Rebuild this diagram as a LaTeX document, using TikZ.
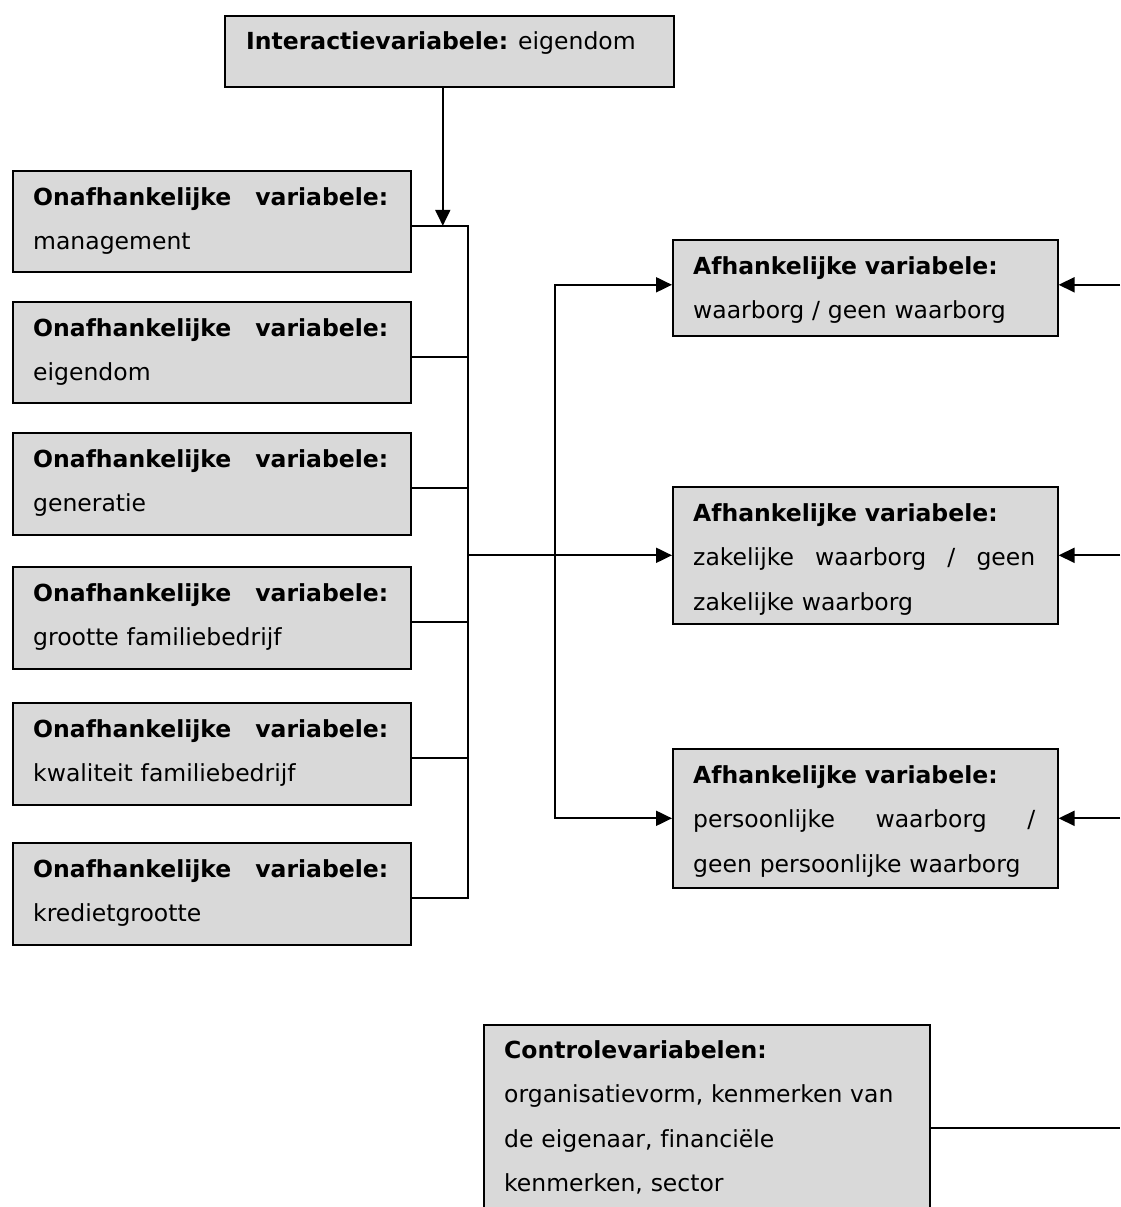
\documentclass[tikz,border=0pt]{standalone}
\usepackage{fontspec}
\setmainfont[Ligatures=NoCommon]{DejaVu Sans}
\usetikzlibrary{arrows.meta,calc}
\definecolor{boxgray}{HTML}{D9D9D9}
\tikzset{
  box/.style={draw=black, line width=1.6pt, fill=boxgray, rectangle,
    inner sep=0pt, anchor=north west},
  txt/.style={anchor=base west, inner sep=0pt, align=left,
    font=\fontsize{23.5}{44.5}\selectfont},
  link/.style={line width=2pt},
  tip/.tip={Triangle[length=16pt,width=15pt]},
  arr/.style={link, -tip}
}
\begin{document}
\begin{tikzpicture}[x=1pt,y=-1pt]
\useasboundingbox (0,0) rectangle (1120,1207);
\clip (0,0) rectangle (1120,1207);

% interaction variable
\node[box, minimum width=449pt, minimum height=71pt] (top) at (224,15) {};
\node[txt] (topt) at ($(top.north west)+(22,35)$)
  {\textbf{Interactievariabele:} eigendom};

% independent variables
\foreach \n/\y/\h/\t in {b1/170/101/management, b2/301/101/eigendom,
    b3/432/102/generatie, b4/566/102/grootte familiebedrijf,
    b5/702/102/kwaliteit familiebedrijf, b6/842/102/kredietgrootte}{
  \node[box, minimum width=398pt, minimum height=\h pt] (\n) at (12,\y) {};
  \node[txt, text width=355pt] (\n t) at ($(\n.north west)+(21,35)$)
    {\textbf{Onafhankelijke\hfill variabele:}\\\t};
  \coordinate (\n p) at ([yshift=-4.5pt]\n.east);
}

% dependent variables
\node[box, minimum width=385pt, minimum height=96pt] (a1) at (672,239) {};
\node[txt, text width=342pt] (a1t) at ($(a1.north west)+(21,35)$)
  {\textbf{Afhankelijke variabele:}\\waarborg / geen waarborg};
\node[box, minimum width=385pt, minimum height=137pt] (a2) at (672,486) {};
\node[txt, text width=342pt] (a2t) at ($(a2.north west)+(21,35)$)
  {\textbf{Afhankelijke variabele:}\\zakelijke\hfill waarborg\hfill /\hfill geen\\zakelijke waarborg};
\node[box, minimum width=385pt, minimum height=139pt] (a3) at (672,748) {};
\node[txt, text width=342pt] (a3t) at ($(a3.north west)+(21,35)$)
  {\textbf{Afhankelijke variabele:}\\persoonlijke\hfill waarborg\hfill /\\geen persoonlijke waarborg};

% control variables
\node[box, minimum width=446pt, minimum height=206pt] (ctl) at (483,1024) {};
\node[txt, text width=410pt] (ctlt) at ($(ctl.north west)+(21,34)$)
  {\textbf{Controlevariabelen:}\\organisatievorm, kenmerken van\\de eigenaar, financiële\\kenmerken, sector};

% routing columns and the right margin
\coordinate (bus) at (468,0);
\coordinate (split) at (555,0);
\coordinate (edge) at (1120,0);
\coordinate (tin) at ([xshift=-6.5pt]top.south);
\coordinate (a1p) at ([yshift=3pt]a1.west);
\coordinate (a1q) at ([yshift=3pt]a1.east);

% interaction arrow onto the collecting line
\draw[arr] (tin) -- (tin |- b1p);

% independent variables collected on the bus
\draw[link] (b1p) -- (b1p -| bus) -- (b6p -| bus) -- (b6p);
\foreach \n in {b2,b3,b4,b5}{
  \draw[link] (\n p) -- (\n p -| bus);
}

% bus to the dependent variables
\draw[arr] (a2.west -| bus) -- (a2.west);
\draw[link, tip-tip] (a1p) -- (a1p -| split) -- (a3.west -| split) -- (a3.west);

% incoming arrows from the right
\draw[arr] (a1q -| edge) -- (a1q);
\draw[arr] (a2.east -| edge) -- (a2.east);
\draw[arr] (a3.east -| edge) -- (a3.east);
\draw[link] (ctl.east) -- (ctl.east -| edge);
\end{tikzpicture}
\end{document}
